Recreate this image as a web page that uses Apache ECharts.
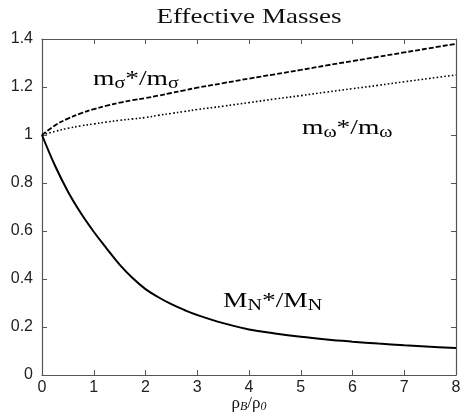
<!DOCTYPE html>
<html>
<head>
    <meta charset="utf-8">
    <title>Effective Masses</title>
    <script src="https://cdn.jsdelivr.net/npm/echarts@6/dist/echarts.min.js"></script>
</head>
<body style="margin:0;background:#fff">
    <div id="main" style="width: 462px;height:413px;"></div>
    <script type="text/javascript">
        // rho_B / rho_0
        var rho = [0, 0.25, 0.5, 0.75, 1, 1.25, 1.5, 1.75, 2, 2.25, 2.5, 2.75, 3, 3.5, 4, 4.5, 5, 5.5, 6, 6.5, 7, 7.5, 8];
        var mN = [1.0, 0.873, 0.765, 0.675, 0.597, 0.527, 0.46, 0.404, 0.358, 0.324, 0.295, 0.271, 0.25, 0.216, 0.19, 0.173, 0.159, 0.148, 0.139, 0.131, 0.124, 0.118, 0.112];
        var mSigma = [1.0, 1.04, 1.068, 1.09, 1.108, 1.122, 1.135, 1.145, 1.154, 1.164, 1.175, 1.186, 1.197, 1.216, 1.235, 1.253, 1.271, 1.29, 1.308, 1.326, 1.344, 1.362, 1.38];
        var mOmega = [1.0, 1.015, 1.028, 1.038, 1.046, 1.054, 1.061, 1.067, 1.073, 1.082, 1.09, 1.098, 1.106, 1.12, 1.135, 1.15, 1.164, 1.179, 1.193, 1.207, 1.222, 1.236, 1.25];

        function pairs(ys) {
            return rho.map(function (x, i) { return [x, ys[i]]; });
        }

        var serif = 'Liberation Serif';
        var sans = 'Liberation Sans';
        var big = { fontFamily: serif, fontSize: 22, color: '#111' };
        var sub = { fontFamily: serif, fontSize: 16, color: '#111', padding: [10, 0, 0, 0] };

        var axisCommon = {
            type: 'value',
            axisLine: { show: true, onZero: false, lineStyle: { color: '#555', width: 1.2 } },
            axisTick: { show: true, inside: true, length: 5, lineStyle: { color: '#555' } },
            splitLine: { show: false }
        };

        var myChart = echarts.init(document.getElementById('main'));
        var option = {
            animation: false,
            grid: { left: 42, right: 6, top: 39, bottom: 38, outerBoundsMode: 'none', containLabel: false },
            xAxis: [
                Object.assign({}, axisCommon, {
                    position: 'bottom', min: 0, max: 8, interval: 1,
                    axisLabel: { fontFamily: sans, fontSize: 16, color: '#222', margin: 5 },
                    name: '{a|ρ}{s|B}{a|/ρ}{s|0}',
                    nameLocation: 'middle',
                    nameMoveOverlap: false,
                    nameGap: 19,
                    nameTextStyle: {
                        rich: {
                            a: { fontFamily: serif, fontSize: 17, color: '#111' },
                            s: { fontFamily: serif, fontSize: 12, fontStyle: 'italic', color: '#111', padding: [7, 0, 0, 0] }
                        }
                    }
                }),
                Object.assign({}, axisCommon, {
                    position: 'top', min: 0, max: 8, interval: 1,
                    axisLabel: { show: false }
                })
            ],
            yAxis: [
                Object.assign({}, axisCommon, {
                    position: 'left', min: 0, max: 1.4, interval: 0.2,
                    axisLabel: { fontFamily: sans, fontSize: 16, color: '#222', margin: 9 }
                }),
                Object.assign({}, axisCommon, {
                    position: 'right', min: 0, max: 1.4, interval: 0.2,
                    axisLabel: { show: false }
                })
            ],
            series: [
                {
                    name: 'M_N*/M_N', type: 'line', smooth: 0.4, showSymbol: false,
                    data: pairs(mN),
                    lineStyle: { color: '#000', width: 2 }
                },
                {
                    name: 'm_sigma*/m_sigma', type: 'line', smooth: 0.4, showSymbol: false,
                    data: pairs(mSigma),
                    lineStyle: { color: '#000', width: 1.8, type: [5, 2] }
                },
                {
                    name: 'm_omega*/m_omega', type: 'line', smooth: 0.4, showSymbol: false,
                    data: pairs(mOmega),
                    lineStyle: { color: '#000', width: 1.6, type: [1.6, 2.2] }
                }
            ],
            graphic: [
                {
                    type: 'text', x: 249, y: 6, scaleX: 1.23,
                    style: { text: 'Effective Masses', fontFamily: serif, fontSize: 22, fill: '#111', align: 'center', verticalAlign: 'top' }
                },
                {
                    type: 'text', x: 93, y: 66, scaleX: 1.25,
                    style: { text: '{a|m}{s|σ}{a|*/m}{s|σ}', rich: { a: big, s: sub }, verticalAlign: 'top' }
                },
                {
                    type: 'text', x: 302, y: 115, scaleX: 1.25,
                    style: { text: '{a|m}{s|ω}{a|*/m}{s|ω}', rich: { a: big, s: sub }, verticalAlign: 'top' }
                },
                {
                    type: 'text', x: 223, y: 288, scaleX: 1.25,
                    style: { text: '{a|M}{s|N}{a|*/M}{s|N}', rich: { a: big, s: sub }, verticalAlign: 'top' }
                }
            ]
        };
        myChart.setOption(option);
    </script>
</body>
</html>
